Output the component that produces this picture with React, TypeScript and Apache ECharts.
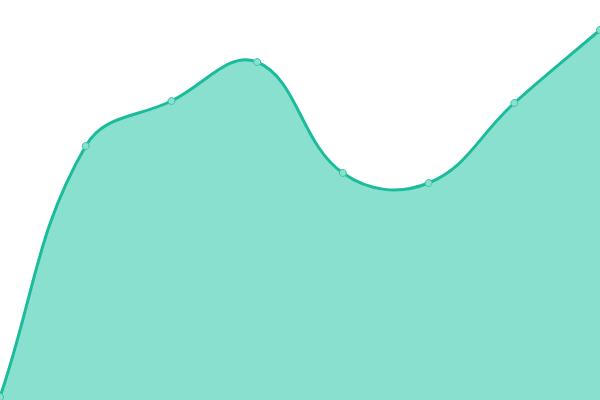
import React, { useEffect, useRef } from "react";
import * as echarts from "echarts";

const categories = ["1", "2", "3", "4", "5", "6", "7", "8"];
const values = [3, 254, 299, 338, 227, 217, 297, 370];

const TENSION = 0.4;

function controlPoints(prev: number[], cur: number[], next: number[], t: number) {
  const d01 = Math.hypot(cur[0] - prev[0], cur[1] - prev[1]);
  const d12 = Math.hypot(next[0] - cur[0], next[1] - cur[1]);
  let s01 = d01 / (d01 + d12);
  let s12 = d12 / (d01 + d12);
  if (!isFinite(s01)) s01 = 0;
  if (!isFinite(s12)) s12 = 0;
  const fa = t * s01;
  const fb = t * s12;
  return {
    p: [cur[0] - fa * (next[0] - prev[0]), cur[1] - fa * (next[1] - prev[1])],
    n: [cur[0] + fb * (next[0] - prev[0]), cur[1] + fb * (next[1] - prev[1])],
  };
}

export default function App() {
  const ref = useRef<HTMLDivElement>(null);
  useEffect(() => {
    document.body.style.margin = "0";
    const chart = echarts.init(ref.current!, null, { renderer: "svg" });
    const pairs = values.map((v, i) => [i, v]);
    chart.setOption({
      animation: false,
      grid: { left: 0, right: 0, top: 0, bottom: 0 },
      xAxis: { type: "category", data: categories, boundaryGap: false, show: false },
      yAxis: { type: "value", min: 0, max: 400, show: false },
      series: [
        {
          type: "custom",
          data: pairs,
          renderItem: (params: any, api: any) => {
            if (params.dataIndex !== 0) return { type: "group", children: [] };
            const cs = params.coordSys;
            const clampX = (x: number) => Math.min(cs.x + cs.width, Math.max(cs.x, x));
            const clampY = (y: number) => Math.min(cs.y + cs.height, Math.max(cs.y, y));
            const pts = values.map((v, i) => api.coord([i, v]));
            const cps = pts.map((cur, i) => {
              const prev = pts[i - 1] || cur;
              const next = pts[i + 1] || cur;
              const c = controlPoints(prev, cur, next, TENSION);
              return {
                p: [clampX(c.p[0]), clampY(c.p[1])],
                n: [clampX(c.n[0]), clampY(c.n[1])],
              };
            });
            let d = `M${pts[0][0]},${pts[0][1]}`;
            for (let i = 1; i < pts.length; i++) {
              const a = cps[i - 1].n;
              const b = cps[i].p;
              d += ` C${a[0]},${a[1]} ${b[0]},${b[1]} ${pts[i][0]},${pts[i][1]}`;
            }
            const base = api.coord([0, 0])[1];
            const last = pts[pts.length - 1];
            const area = d + ` L${last[0]},${base} L${pts[0][0]},${base} Z`;
            return {
              type: "group",
              children: [
                {
                  type: "path",
                  shape: { pathData: area },
                  style: { fill: "#8ae0cf", stroke: "none" },
                },
                {
                  type: "path",
                  shape: { pathData: d },
                  style: { fill: "none", stroke: "#1abc9c", lineWidth: 3 },
                },
              ],
            };
          },
          z: 1,
        },
        {
          type: "scatter",
          data: pairs,
          symbol: "circle",
          symbolSize: 7,
          itemStyle: { color: "#8ae0cf", borderColor: "#3cc6a9", borderWidth: 1, opacity: 1 },
          z: 2,
        },
      ],
    });
    return () => chart.dispose();
  }, []);
  return <div ref={ref} style={{ width: 600, height: 400 }} />;
}
